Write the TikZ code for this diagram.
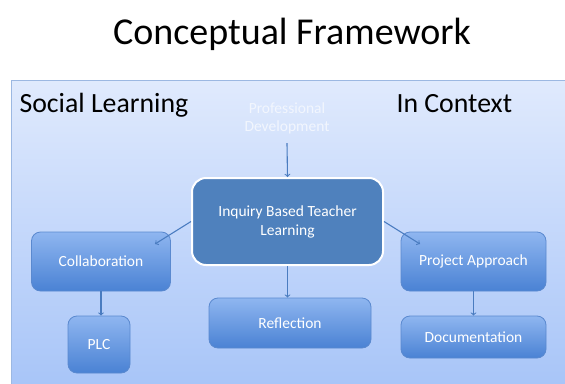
\documentclass[tikz,border=0pt]{standalone}
\usepackage{fontspec}
\setmainfont{Carlito}
\usepackage{tikz}

\definecolor{bgtop}{HTML}{E0EAFD}
\definecolor{bgbot}{HTML}{A8C5F8}
\definecolor{boxtop}{HTML}{8FB6F0}
\definecolor{boxbot}{HTML}{4A82D4}
\definecolor{boxline}{HTML}{5A89CF}
\definecolor{corefill}{HTML}{4F81BD}
\definecolor{arrowblue}{HTML}{4A7CC0}
\definecolor{faintwhite}{HTML}{F2F6FE}

\tikzset{
	topicbox/.style={draw=boxline,line width=0.8,rounded corners=9,
		top color=boxtop,bottom color=boxbot,text=white,font=\fontsize{15.5}{18}\selectfont},
	corebox/.style={draw=white,line width=2,rounded corners=14,fill=corefill,
		text=white,align=center,font=\fontsize{15.5}{19}\selectfont},
	flow/.style={arrowblue,line width=1.1,->},
	heading/.style={anchor=base west,font=\fontsize{27.8}{32}\selectfont}
}

\begin{document}
\begin{tikzpicture}[x=1pt,y=-1pt]
	\useasboundingbox (0,0) rectangle (565,383);
	\fill[white] (0,0) rectangle (565,383);
	\node (title) at (292,34) {\fontsize{38}{44}\selectfont Conceptual Framework};
	
	%slide background
	\shade[top color=bgtop,bottom color=bgbot] (11,80) rectangle (566,384);
	\draw[boxline!60,line width=0.8] (11,384)--(11,80)--(566,80);
	
	%labels
	\node[heading] (social) at (16,112) {Social Learning};
	\node[heading] (context) at (393,112) {In Context};
	\node[text=faintwhite,align=center,font=\fontsize{15.5}{18}\selectfont] (prof) at (287,118)
		{Professional\\Development};
	
	%boxes
	\node[corebox,minimum width=191,minimum height=87] (inquiry) at (287.5,221.5)
		{Inquiry Based Teacher\\Learning};
	\node[topicbox,minimum width=139,minimum height=59] (collab) at (101,261.5) {Collaboration};
	\node[topicbox,minimum width=62,minimum height=57] (plc) at (99,344.5) {PLC};
	\node[topicbox,minimum width=162,minimum height=50] (reflect) at (290,323) {Reflection};
	\node[topicbox,minimum width=145,minimum height=59] (project) at (473.5,261.5) {Project Approach};
	\node[topicbox,minimum width=145,minimum height=42] (doc) at (473.5,337) {Documentation};
	
	%arrows
	\draw[flow] ([yshift=-6]prof.south) -- (inquiry.north);
	\draw[flow] (inquiry.west) -- (155,244);
	\draw[flow] (inquiry.east) -- (420,244);
	\draw[flow] (inquiry.south) -- (inquiry.south |- reflect.north);
	\draw[flow] (collab.south) -- (collab.south |- plc.north);
	\draw[flow] (project.south) -- (doc.north);
\end{tikzpicture}
\end{document}
